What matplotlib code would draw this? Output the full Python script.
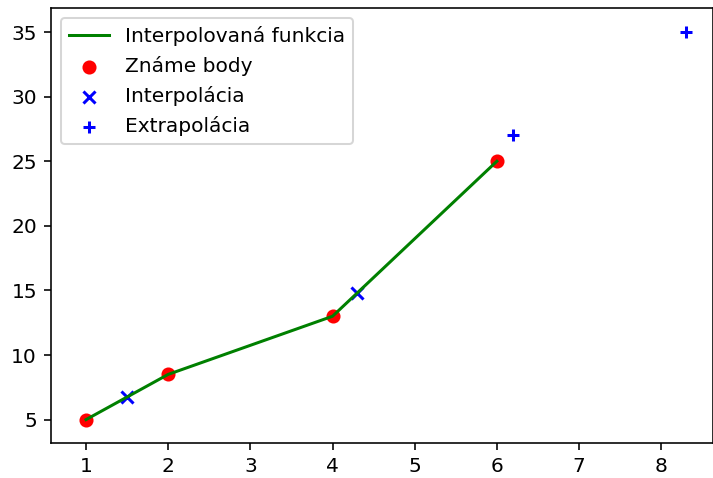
import matplotlib
matplotlib.use("Agg")
import matplotlib.pyplot as plt

# známe body
x_known = [1, 2, 4, 6]
y_known = [5, 8.5, 13, 25]

# interpolácia
x_interp = [1.5, 4.3]
y_interp = [6.75, 14.8]

# extrapolácia
x_extrap = [6.2, 8.3]
y_extrap = [27, 35]

DPI = 144.6
fig = plt.figure(figsize=(713 / DPI, 478 / DPI), dpi=DPI)
ax = fig.add_axes([51 / 713, 1 - 443 / 478, 662 / 713, (443 - 8) / 478])

ax.plot(x_known, y_known, color="green", label="Interpolovaná funkcia")
ax.scatter(x_known, y_known, color="red", label="Známe body")
ax.scatter(x_interp, y_interp, color="blue", marker="x", label="Interpolácia")
ax.scatter(x_extrap, y_extrap, color="blue", marker="+", label="Extrapolácia")

ax.set_xlim(0.574, 8.63)
ax.set_ylim(3.19, 36.86)
ax.legend(loc="upper left")

fig.savefig("out.png", dpi=DPI)
